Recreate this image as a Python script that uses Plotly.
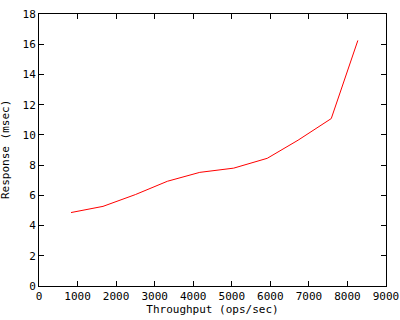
import plotly.graph_objects as go

throughput = [830, 1660, 2500, 3330, 4170, 5050, 5920, 6720, 7580, 8270]
response = [4.86, 5.27, 6.05, 6.93, 7.52, 7.80, 8.45, 9.65, 11.08, 16.25]

x_ticks = [0, 1000, 2000, 3000, 4000, 5000, 6000, 7000, 8000, 9000]
y_ticks = [0, 2, 4, 6, 8, 10, 12, 14, 16, 18]

font = dict(family="DejaVu Sans Mono", size=11, color="black")

fig = go.Figure(go.Scatter(x=throughput, y=response, mode="lines",
                           line=dict(color="#ff0000", width=1), showlegend=False))

axis_common = dict(showgrid=False, zeroline=False, showline=True, linecolor="black",
                   linewidth=1, mirror="ticks", ticks="inside", ticklen=5,
                   tickcolor="black", tickwidth=1, tickfont=font, automargin=False)

fig.update_xaxes(range=[0, 9000], tickvals=x_ticks, ticktext=[str(v) for v in x_ticks],
                 title=dict(text="Throughput (ops/sec)", font=font, standoff=0), **axis_common)
fig.update_yaxes(range=[0, 18], tickvals=y_ticks, ticktext=[str(v) for v in y_ticks],
                 **axis_common)

fig.add_annotation(text="Response (msec)", xref="paper", yref="paper",
                   x=(5 - 39) / 347, y=0.5, xanchor="center", yanchor="middle",
                   textangle=-90, showarrow=False, font=font)

fig.update_layout(width=400, height=320, margin=dict(l=39, r=14, t=14, b=34),
                  paper_bgcolor="white", plot_bgcolor="white", font=font)

fig.write_html("out.html", config={"displayModeBar": False},
               post_script="document.body.style.margin='0';document.body.style.overflow='hidden';")
